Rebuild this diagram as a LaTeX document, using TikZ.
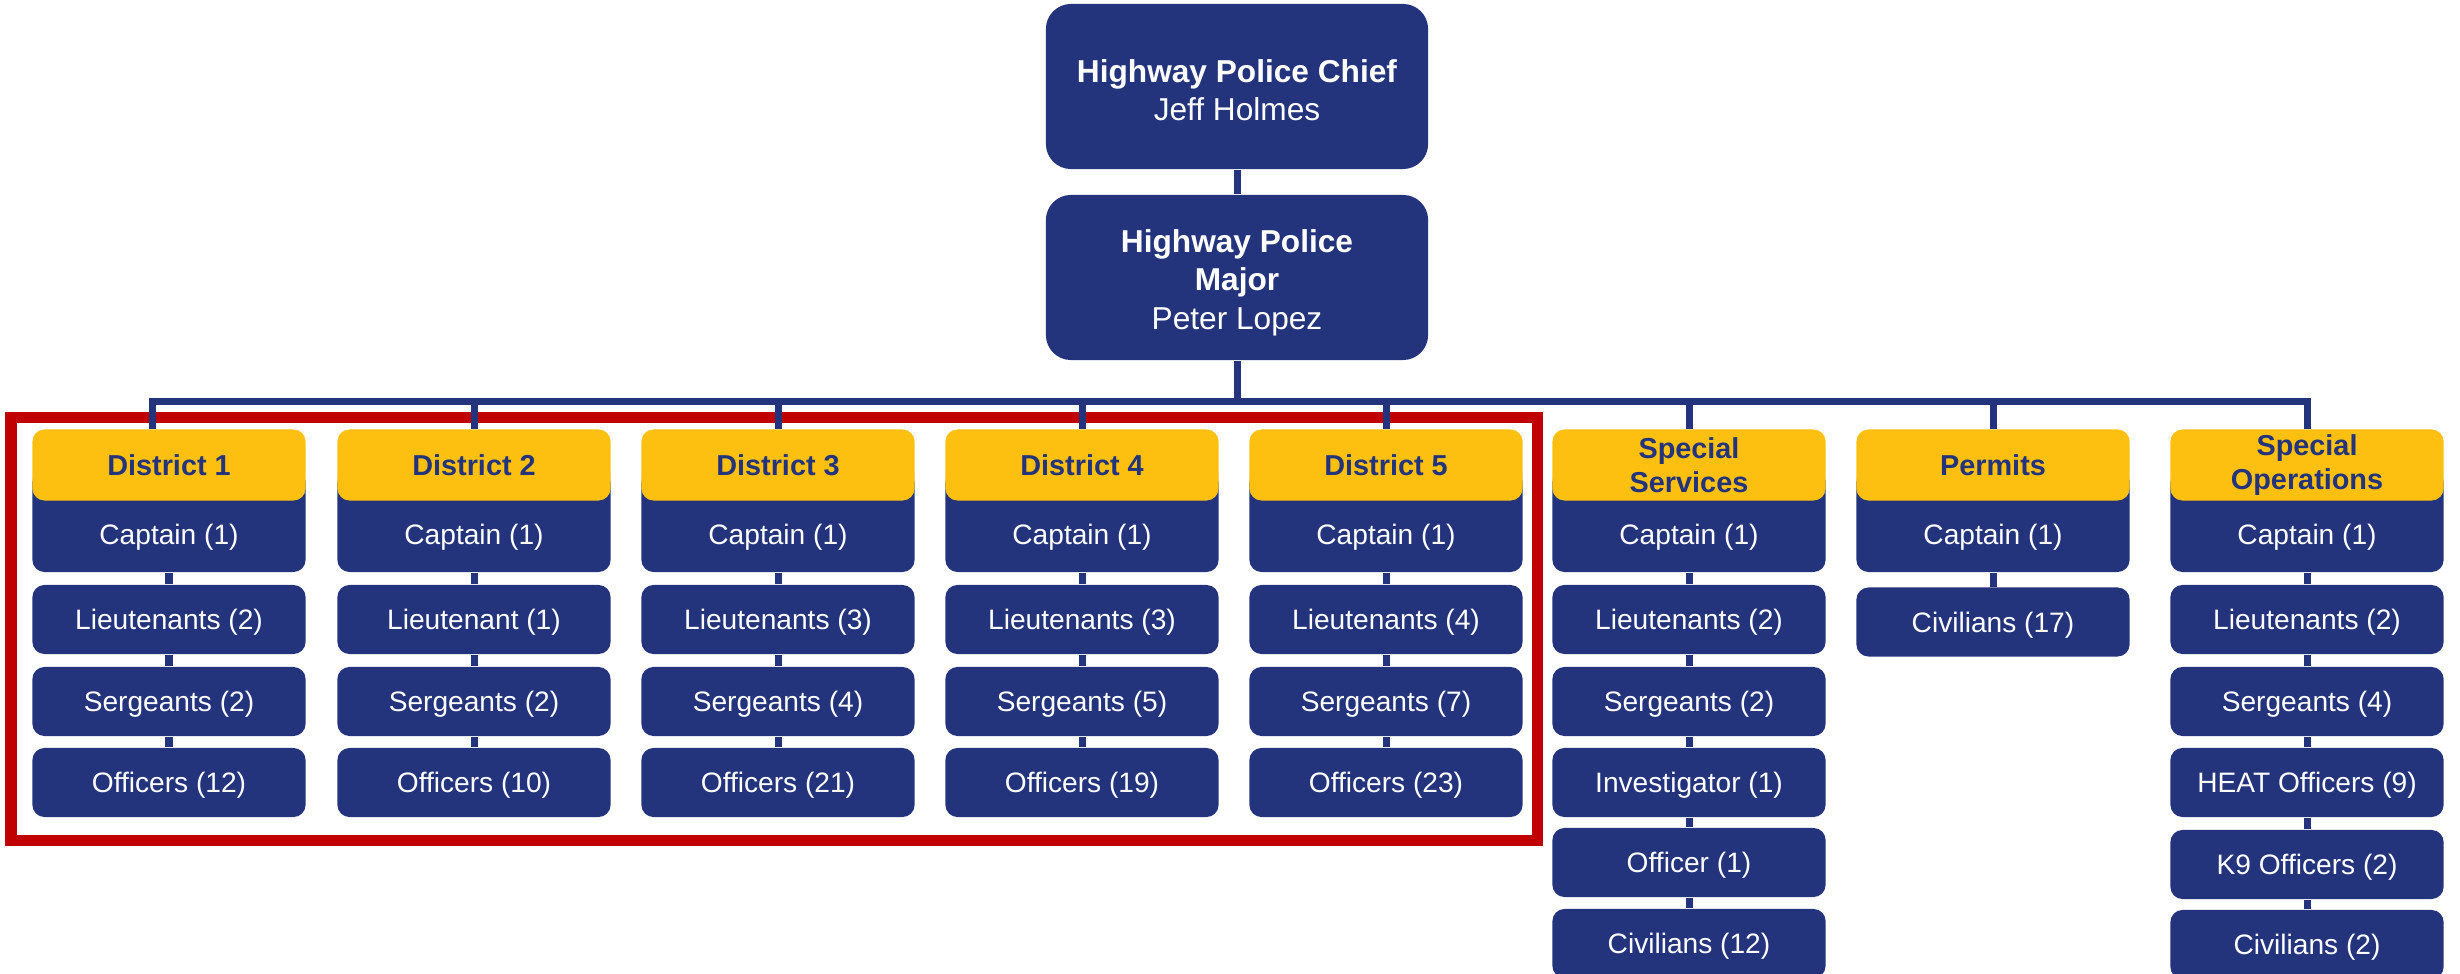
\documentclass[tikz,border=0pt]{standalone}
\usepackage{fontspec}
\setmainfont{Liberation Sans}
\definecolor{navy}{RGB}{36,52,124}
\definecolor{gold}{RGB}{253,192,16}
\definecolor{redframe}{RGB}{192,0,0}
\tikzset{
  unit/.style={fill=navy, text=white, rounded corners=0.12cm, minimum width=2.73cm,
    minimum height=0.69cm, inner sep=0pt, align=center, text height=7.2pt, text depth=1.46pt,
    font=\fontsize{8}{9.6}\selectfont},
  capbox/.style={unit, minimum height=1.02cm, text height=13.4pt, text depth=0pt},
  head/.style={fill=gold, text=navy, rounded corners=0.12cm, minimum width=2.73cm,
    minimum height=0.71cm, inner sep=0pt, align=center, font=\bfseries\fontsize{8.2}{9.8}\selectfont},
  topbox/.style={fill=navy, text=white, rounded corners=0.25cm, minimum width=3.82cm,
    minimum height=1.65cm, inner sep=0pt, align=center, font=\fontsize{9}{10.8}\selectfont},
  link/.style={navy, line width=0.07cm}
}
\begin{document}
\begin{tikzpicture}[x=0.01cm,y=-0.01cm,line join=miter]
\useasboundingbox (0,0) rectangle (2460,974);
% districts frame
\draw[redframe, line width=0.11cm] (11,417.5) rectangle (1537.5,841);
% top of the chart
\node[topbox] (chief) at (1237,86.5) {\rule{0pt}{8.6pt}\textbf{Highway Police Chief}\\Jeff Holmes};
\node[topbox] (major) at (1237,277.5) {\rule{0pt}{9.6pt}\textbf{Highway Police}\\\textbf{Major}\\[0.5pt]Peter Lopez};
\draw[link] (chief) -- (major);
% units: captain and header
\foreach \i/\x/\name in {1/169/District 1, 2/474/District 2, 3/778/District 3, 4/1082/District 4,
  5/1386/District 5, 6/1689/{Special\\Services}, 7/1993/Permits, 8/2307/{Special\\Operations}}
{
  \node[capbox] (c\i) at (\x,521) {Captain (1)};
  \node[head] (h\i) at (\x,465) {\name};
}
% ranks below the captains
\foreach \i/\x/\lt/\sg/\of in {1/169/Lieutenants (2)/Sergeants (2)/Officers (12),
  2/474/Lieutenant (1)/Sergeants (2)/Officers (10),
  3/778/Lieutenants (3)/Sergeants (4)/Officers (21),
  4/1082/Lieutenants (3)/Sergeants (5)/Officers (19),
  5/1386/Lieutenants (4)/Sergeants (7)/Officers (23),
  6/1689/Lieutenants (2)/Sergeants (2)/Investigator (1),
  8/2307/Lieutenants (2)/Sergeants (4)/HEAT Officers (9)}
{
  \node[unit] (l\i) at (\x,619.5) {\lt};
  \node[unit] (s\i) at (\x,701.5) {\sg};
  \node[unit] (o\i) at (\x,782.5) {\of};
  \draw[link] (c\i) -- (l\i);
  \draw[link] (l\i) -- (s\i);
  \draw[link] (s\i) -- (o\i);
}
\node[unit] (l7) at (1993,622) {Civilians (17)};
\draw[link] (c7) -- (l7);
\node[unit] (x6) at (1689,862.5) {Officer (1)};
\node[unit] (y6) at (1689,943.5) {Civilians (12)};
\node[unit] (x8) at (2307,864.5) {K9 Officers (2)};
\node[unit] (y8) at (2307,944.5) {Civilians (2)};
\draw[link] (o6) -- (x6);
\draw[link] (x6) -- (y6);
\draw[link] (o8) -- (x8);
\draw[link] (x8) -- (y8);
% bus from the major
\coordinate (bus) at (1237,402);
\draw[link] (major) -- (bus);
\draw[link] ([xshift=-0.16cm]h1.north) |- (h8.north |- bus) -- (h8.north);
\foreach \i in {2,...,7}
  \draw[link] (h\i.north |- bus) -- (h\i.north);
\end{tikzpicture}
\end{document}
